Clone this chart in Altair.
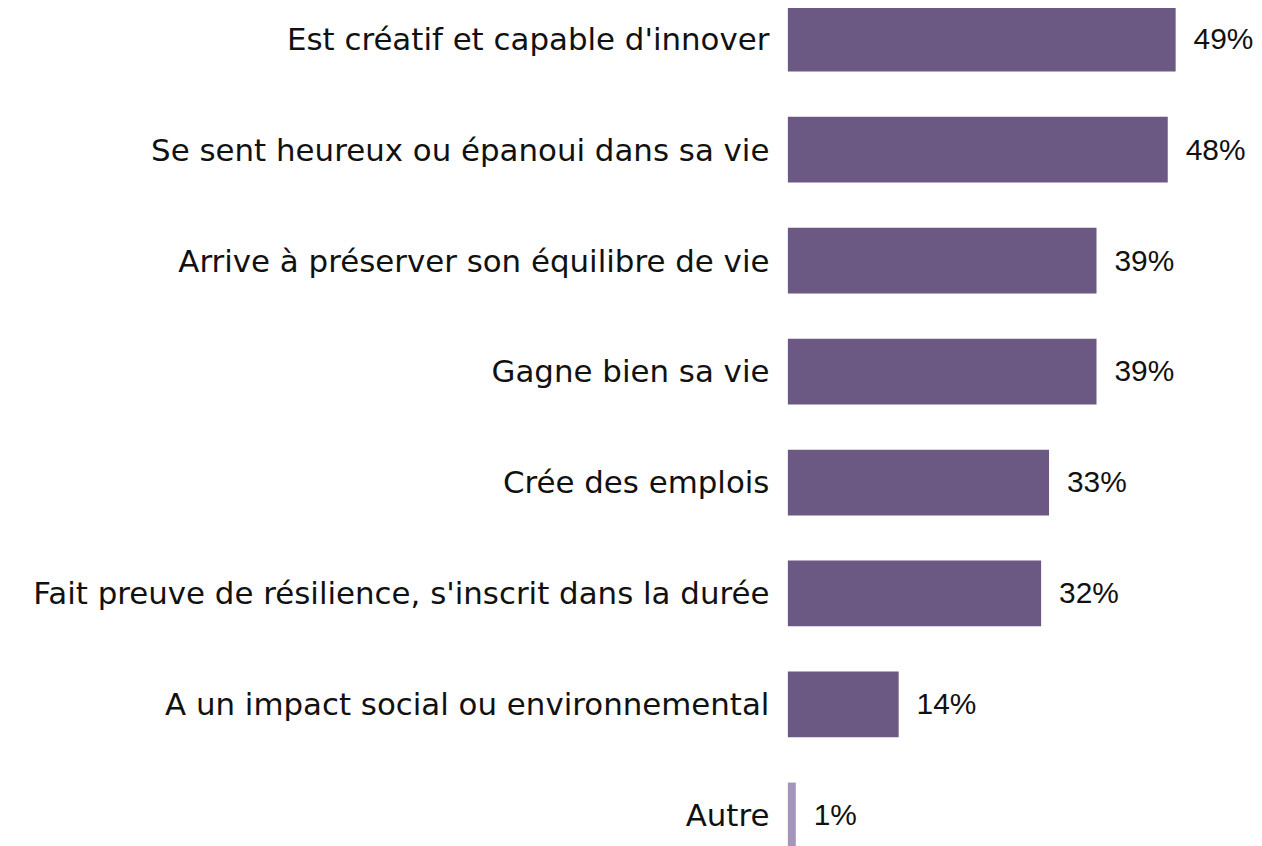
import altair as alt
import pandas as pd

categories = [
    "Est créatif et capable d'innover",
    "Se sent heureux ou épanoui dans sa vie",
    "Arrive à préserver son équilibre de vie",
    "Gagne bien sa vie",
    "Crée des emplois",
    "Fait preuve de résilience, s'inscrit dans la durée",
    "A un impact social ou environnemental",
    "Autre",
]
values = [49, 48, 39, 39, 33, 32, 14, 1]
groups = ["main"] * 7 + ["other"]

df = pd.DataFrame({"cat": categories, "val": values, "grp": groups})
df["label"] = df["val"].astype(str) + "%"

FONT = "DejaVu Sans"
FS = 31
VFONT = "Liberation Sans"
VFS = 30
y_enc = alt.Y(
    "cat:N",
    sort=categories,
    title=None,
    scale=alt.Scale(paddingInner=0.4075, paddingOuter=0),
    axis=alt.Axis(domain=False, ticks=False, labelPadding=19, labelFontSize=FS,
                  labelFont=FONT, labelColor="#111111", labelLimit=800, labelOffset=-2),
)
x_enc = alt.X("val:Q", title=None, scale=alt.Scale(domain=[0, 58.9], nice=False), axis=None)

bars = alt.Chart(df).mark_bar(yOffset=-4).encode(
    y=y_enc,
    x=x_enc,
    color=alt.Color("grp:N", scale=alt.Scale(domain=["main", "other"], range=["#6B5883", "#A594BC"]), legend=None),
)
text = alt.Chart(df).mark_text(align="left", dx=18, dy=-3, fontSize=VFS, font=VFONT, color="#111111").encode(
    y=alt.Y("cat:N", sort=categories),
    x="val:Q",
    text="label:N",
)

chart = (bars + text).properties(
    width=468, height=846,
    padding={"left": 783, "top": 0, "right": 0, "bottom": 0},
    autosize="none",
).configure_view(stroke=None)

chart.save("out.html", embed_options={"renderer": "svg", "actions": False})
